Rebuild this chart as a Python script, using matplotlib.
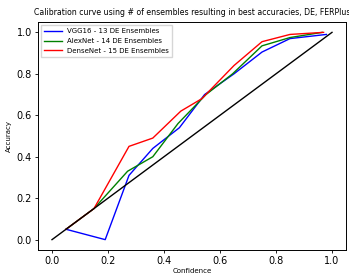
import matplotlib
matplotlib.use("Agg")
import matplotlib.pyplot as plt

# calibration curves
vgg_conf = [0.05, 0.19, 0.275, 0.36, 0.455, 0.545, 0.65, 0.75, 0.85, 0.98]
vgg_acc = [0.05, 0.0, 0.31, 0.44, 0.54, 0.70, 0.80, 0.905, 0.97, 0.99]

alex_conf = [0.05, 0.15, 0.27, 0.36, 0.45, 0.55, 0.645, 0.75, 0.85, 0.965]
alex_acc = [0.05, 0.15, 0.33, 0.40, 0.56, 0.70, 0.80, 0.935, 0.975, 1.0]

dense_conf = [0.05, 0.15, 0.275, 0.36, 0.46, 0.535, 0.65, 0.75, 0.85, 0.97]
dense_acc = [0.05, 0.15, 0.45, 0.49, 0.62, 0.68, 0.84, 0.955, 0.99, 1.0]

labels = ["VGG16 - 13 DE Ensembles", "AlexNet - 14 DE Ensembles", "DenseNet - 15 DE Ensembles"]
diag = [0.0, 1.0]

fig = plt.figure(figsize=(3.49, 2.73), dpi=100)
ax = fig.add_axes([38 / 349, 23 / 273, 308 / 349, 228 / 273])

lw = 1.0
ax.plot(vgg_conf, vgg_acc, color="b", lw=lw, label=labels[0])
ax.plot(alex_conf, alex_acc, color="g", lw=lw, label=labels[1])
ax.plot(dense_conf, dense_acc, color="r", lw=lw, label=labels[2])
ax.plot(diag, diag, color="k", lw=lw)

ax.set_xlim(-0.05, 1.05)
ax.set_ylim(-0.05, 1.05)
ax.set_xticks([0.0, 0.2, 0.4, 0.6, 0.8, 1.0])
ax.set_yticks([0.0, 0.2, 0.4, 0.6, 0.8, 1.0])
ax.tick_params(labelsize=7, length=2.5, width=0.6, pad=2)
for s in ax.spines.values():
    s.set_linewidth(0.7)

ax.set_title("Calibration curve using # of ensembles resulting in best accuracies, DE, FERPlus",
             fontsize=5.6, pad=5)
ax.set_xlabel("Confidence", fontsize=5, labelpad=1)
ax.set_ylabel("Accuracy", fontsize=5, labelpad=3)
ax.legend(loc="upper left", fontsize=5, handlelength=2.5, borderpad=0.4,
          labelspacing=0.55, framealpha=0.8, fancybox=False)

fig.savefig("out.png", dpi=100)
